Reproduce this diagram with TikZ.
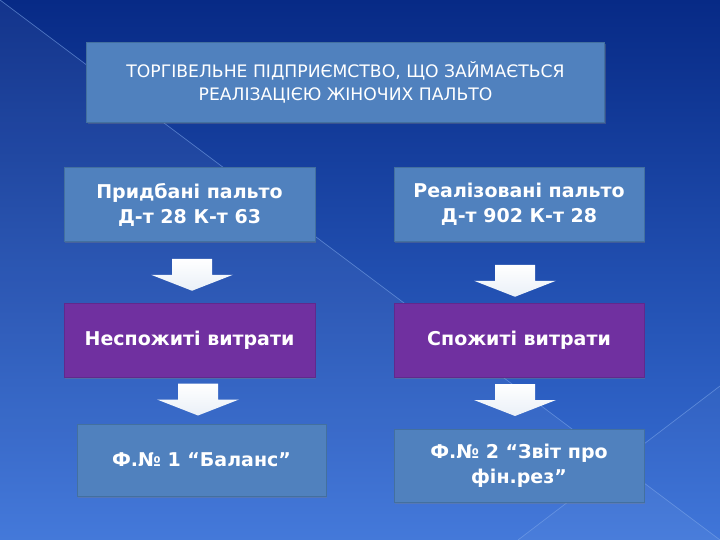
\documentclass[tikz,border=0pt]{standalone}
\usepackage{fontspec}
\setmainfont{DejaVu Sans}
\usetikzlibrary{calc,shadows}
\definecolor{bgtop}{HTML}{072A86}
\definecolor{bgbot}{HTML}{3A72D8}
\definecolor{boxblue}{HTML}{5081BE}
\definecolor{boxedge}{HTML}{43709F}
\definecolor{boxpurple}{HTML}{7030A0}
\definecolor{purpleedge}{HTML}{61298C}
\definecolor{streakc}{HTML}{7FA8EA}
\tikzset{
  basebox/.style={rectangle, inner sep=0pt, align=center, text=white,
    line width=0.8pt,
    drop shadow={shadow xshift=1.2pt, shadow yshift=-1.5pt, opacity=0.35}},
  bluebox/.style={basebox, fill=boxblue, draw=boxedge},
  purplebox/.style={basebox, fill=boxpurple, draw=purpleedge},
  boldtext/.style={font=\bfseries\fontsize{19}{25}\selectfont},
  headtext/.style={font=\fontsize{17.2}{23}\selectfont},
  streak/.style={draw=streakc, line width=0.7pt, opacity=0.55},
  arrowfill/.style={top color=white, bottom color=white!88!boxblue, draw=none},
  fatarrow/.pic={\shade[arrowfill] (-20,-16) -- (20,-16) -- (20,0) -- (41,0) -- (0,16) -- (-41,0) -- (-20,0) -- cycle;}
}
\begin{document}
\begin{tikzpicture}[x=1pt,y=-1pt]
\useasboundingbox (0,0) rectangle (720,540);
% background
\shade[top color=bgtop, bottom color=bgbot] (0,0) rectangle (720,540);
\fill[white, opacity=0.05] (0,0) -- (720,540) -- (0,540) -- cycle;
\fill[white, opacity=0.03] (720,386) -- (518,540) -- (720,540) -- cycle;
\draw[streak] (0,0) -- (720,540);
\draw[streak] (720,386) -- (518,540);
% boxes
\node[bluebox, headtext, minimum width=518, minimum height=80] (top) at (345.5,82.5)
  {ТОРГІВЕЛЬНЕ ПІДПРИЄМСТВО, ЩО ЗАЙМАЄТЬСЯ\\РЕАЛІЗАЦІЄЮ ЖІНОЧИХ ПАЛЬТО};
\node[bluebox, boldtext, minimum width=251, minimum height=74] (p1) at (189.5,204.5)
  {Придбані пальто\\Д-т 28 К-т 63};
\node[bluebox, boldtext, minimum width=250, minimum height=74] (r1) at (519,204.5)
  {Реалізовані пальто\\Д-т 902 К-т 28};
\node[purplebox, boldtext, minimum width=251, minimum height=74] (n1) at (189.5,340)
  {Неспожиті витрати};
\node[purplebox, boldtext, minimum width=250, minimum height=74] (n2) at (519,340)
  {Спожиті витрати};
\node[bluebox, boldtext, minimum width=249, minimum height=72] (b1) at (201.5,460)
  {Ф.№ 1 “Баланс”};
\node[bluebox, boldtext, minimum width=250, minimum height=73] (b2) at (519,465.5)
  {Ф.№ 2 “Звіт про\\фін.рез”};
% arrows
\path ($(p1.south)!0.5!(n1.north)+(2.5,2.5)$) pic {fatarrow};
\path ($(r1.south)!0.5!(n2.north)+(-4,8.5)$) pic {fatarrow};
\path ($(n1.south)!0.5!(b1.north)+(2.5,-1)$) pic {fatarrow};
\path ($(n2.south)!0.5!(b2.north)+(-4,-3)$) pic {fatarrow};
\end{tikzpicture}
\end{document}
